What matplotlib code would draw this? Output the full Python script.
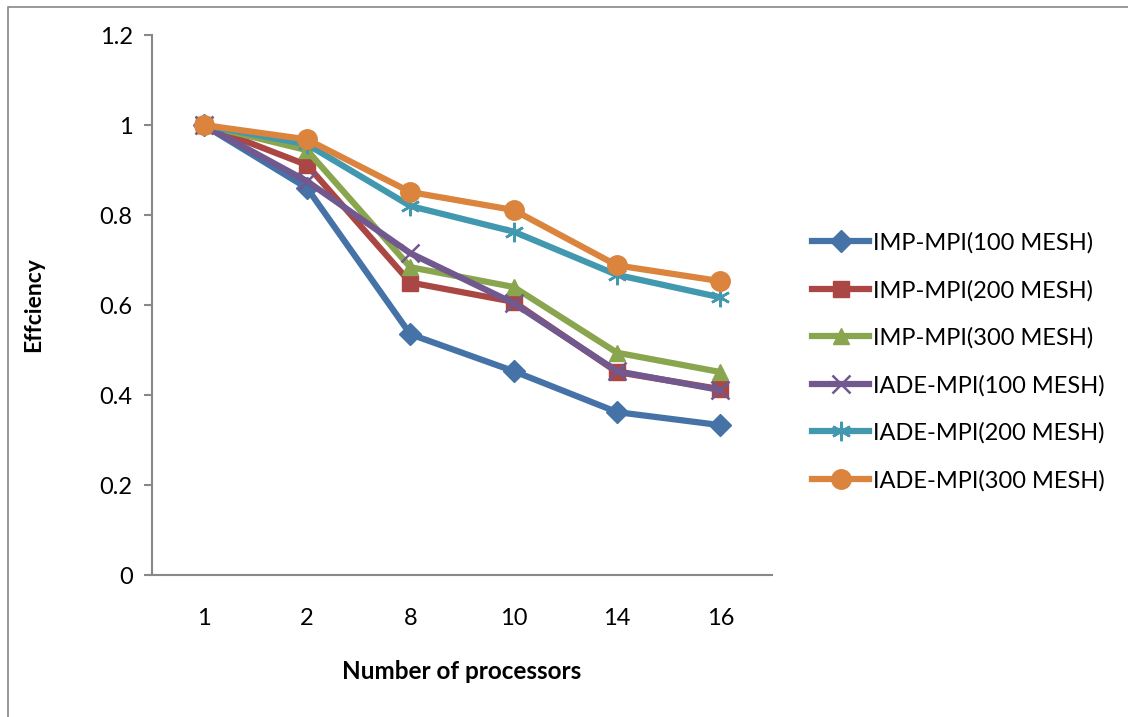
import matplotlib
matplotlib.use("Agg")
import matplotlib.pyplot as plt
from matplotlib.patches import Rectangle

# Data
processors = ["1", "2", "8", "10", "14", "16"]
imp_100 = [1.0, 0.86, 0.535, 0.453, 0.362, 0.333]
imp_200 = [1.0, 0.911, 0.650, 0.607, 0.451, 0.413]
imp_300 = [1.0, 0.944, 0.684, 0.640, 0.494, 0.451]
iade_100 = [1.0, 0.875, 0.715, 0.604, 0.453, 0.411]
iade_200 = [1.0, 0.957, 0.820, 0.763, 0.667, 0.617]
iade_300 = [1.0, 0.968, 0.851, 0.811, 0.688, 0.653]

labels = ["IMP-MPI(100 MESH)", "IMP-MPI(200 MESH)", "IMP-MPI(300 MESH)",
          "IADE-MPI(100 MESH)", "IADE-MPI(200 MESH)", "IADE-MPI(300 MESH)"]
series = [imp_100, imp_200, imp_300, iade_100, iade_200, iade_300]
colors = ["#4572A7", "#AA4643", "#89A54E", "#71588F", "#4198AF", "#DB843D"]
markers = ["D", "s", "^", "x", "*", "o"]
msizes = [11, 12, 12, 13, 14, 14]

plt.rcParams["font.family"] = ["Lato", "DejaVu Sans"]

W, H = 1128, 717
fig = plt.figure(figsize=(W / 100, H / 100), dpi=100)

# chart frame
fig.patches.append(Rectangle((8 / W, -0.1), 1.2, 1 - 7 / H + 0.1,
                             transform=fig.transFigure, fill=False,
                             edgecolor="#888888", linewidth=1.2))

ax = fig.add_axes([152 / W, 1 - 575 / H, 620 / W, 540 / H])
x = list(range(len(processors)))
for ys, lab, c, m, ms in zip(series, labels, colors, markers, msizes):
    if m in ("x", "*"):
        ax.plot(x, ys, color=c, linewidth=4.5, marker="x" if m == "x" else (6, 2, 0),
                markersize=ms, markeredgewidth=1.8, markeredgecolor=c,
                label=lab, solid_joinstyle="round")
    else:
        ax.plot(x, ys, color=c, linewidth=4.5, marker=m, markersize=ms,
                markeredgecolor=c, markerfacecolor=c, label=lab,
                solid_joinstyle="round")

ax.set_xlim(-0.5, len(processors) - 0.5)
ax.set_ylim(0, 1.2)
ax.set_yticks([0, 0.2, 0.4, 0.6, 0.8, 1.0, 1.2])
ax.set_yticklabels(["0", "0.2", "0.4", "0.6", "0.8", "1", "1.2"])
ax.set_xticks(x)
ax.set_xticklabels(processors)

for s in ["top", "right"]:
    ax.spines[s].set_visible(False)
for s in ["left", "bottom"]:
    ax.spines[s].set_color("#888888")
    ax.spines[s].set_linewidth(1.5)
ax.tick_params(axis="y", length=6, width=1.5, color="#888888", labelsize=17, pad=8)
ax.tick_params(axis="x", length=0, labelsize=17, pad=24)

ax.set_ylabel("Effciency", fontsize=16.5, fontweight="bold", labelpad=40)
ax.set_xlabel("Number of processors", fontsize=17.5, fontweight="bold", labelpad=22)

leg = ax.legend(loc="center left", bbox_to_anchor=(1.065, 0.395), frameon=False,
                fontsize=17, handlelength=2.4, handletextpad=0.15,
                labelspacing=1.1, borderaxespad=0, borderpad=0)

fig.savefig("out.png", dpi=100)
